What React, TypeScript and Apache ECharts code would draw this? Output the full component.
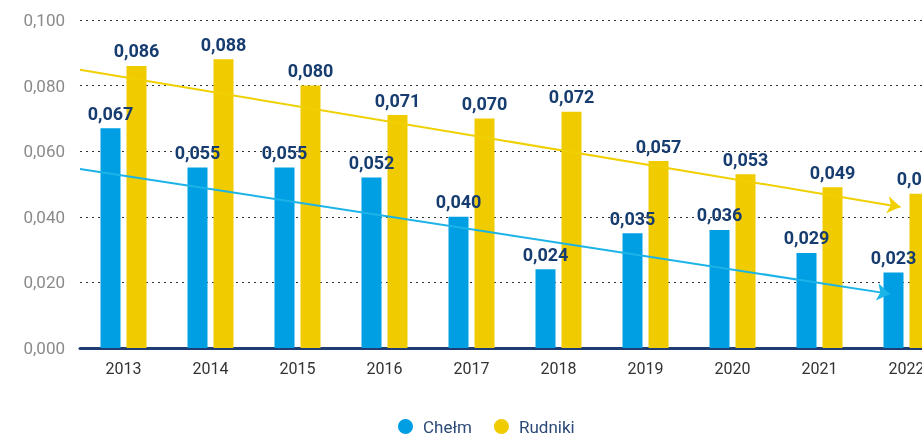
import React, { useEffect, useRef } from "react";
import * as echarts from "echarts";

const years = ["2013", "2014", "2015", "2016", "2017", "2018", "2019", "2020", "2021", "2022"];
const chelm = [0.067, 0.055, 0.055, 0.052, 0.04, 0.024, 0.035, 0.036, 0.029, 0.023];
const rudniki = [0.086, 0.088, 0.08, 0.071, 0.07, 0.072, 0.057, 0.053, 0.049, 0.047];
// trend arrows: [categoryPosition, value] start and end
const chelmTrend = [[-0.5, 0.0546], [8.81, 0.0165]];
const rudnikiTrend = [[-0.5, 0.0848], [8.93, 0.043]];
const seriesNames = ["Chełm", "Rudniki"];

const fmt = (v: number) => v.toFixed(3).replace(".", ",");

export default function App() {
  const ref = useRef<HTMLDivElement>(null);
  useEffect(() => {
    const chart = echarts.init(ref.current!, null, { renderer: "svg" });
    const labelStyle = {
      show: true,
      position: "top" as const,
      distance: 6,
      color: "#173c70",
      fontFamily: "Roboto",
      fontWeight: "bold" as const,
      fontSize: 18,
      formatter: (p: any) => fmt(p.value),
    };
    chart.setOption({
      animation: false,
      grid: { left: 80, top: 20, width: 870, bottom: 88, outerBoundsMode: "none", containLabel: false },
      legend: {
        left: 393,
        top: 413,
        icon: "circle",
        itemWidth: 15,
        itemHeight: 15,
        itemGap: 22,
        data: seriesNames,
        textStyle: { color: "#2c4a78", fontSize: 17, fontFamily: "Roboto", padding: [0, 0, 0, 5] },
      },
      xAxis: [
        {
          type: "category",
          data: years,
          axisLine: { lineStyle: { color: "#1f3d73", width: 3 } },
          axisTick: { show: false },
          axisLabel: { color: "#333", fontSize: 16, fontFamily: "Roboto", margin: 12 },
        },
        { type: "value", min: -0.5, max: 9.5, show: false },
      ],
      yAxis: {
        type: "value",
        min: 0,
        max: 0.1,
        interval: 0.02,
        axisLine: { show: false },
        axisTick: { show: false },
        axisLabel: { color: "#8a8a8a", fontSize: 17, fontFamily: "Roboto", margin: 15, formatter: (v: number) => fmt(v) },
        splitLine: { lineStyle: { color: "#333", type: [2, 4], width: 1 } },
      },
      series: [
        {
          name: seriesNames[0],
          type: "bar",
          data: chelm,
          barWidth: 20,
          barGap: "30%",
          itemStyle: { color: "#009fe3" },
          label: labelStyle,
        },
        {
          name: seriesNames[1],
          type: "bar",
          data: rudniki,
          barWidth: 20,
          itemStyle: { color: "#efcb00" },
          label: labelStyle,
        },
        {
          type: "lines",
          coordinateSystem: "cartesian2d",
          xAxisIndex: 1,
          yAxisIndex: 0,
          symbol: ["none", "arrow"],
          symbolSize: 13,
          lineStyle: { color: "#1cb3e8", width: 2, opacity: 1 },
          data: [{ coords: chelmTrend }],
          z: 5,
        },
        {
          type: "lines",
          coordinateSystem: "cartesian2d",
          xAxisIndex: 1,
          yAxisIndex: 0,
          symbol: ["none", "arrow"],
          symbolSize: 13,
          lineStyle: { color: "#f0d000", width: 2, opacity: 1 },
          data: [{ coords: rudnikiTrend }],
          z: 5,
        },
      ],
    });
    return () => chart.dispose();
  }, []);
  return <div ref={ref} style={{ position: "fixed", left: 0, top: 0, width: 922, height: 436 }} />;
}
